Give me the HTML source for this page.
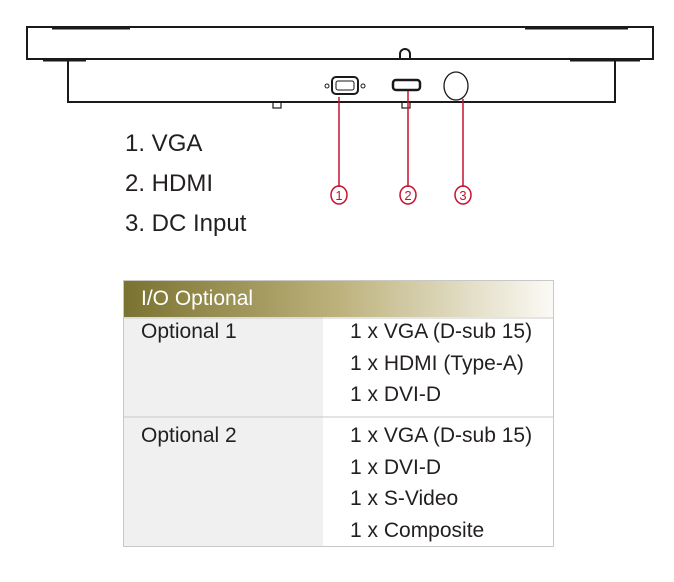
<!DOCTYPE html>
<html><head><style>
body{margin:0;width:674px;height:582px;background:#fff;position:relative;font-family:"Liberation Sans",Arial,sans-serif;overflow:hidden}
.t{position:absolute;color:#231f20;white-space:nowrap}
</style></head><body>
<svg width="674" height="582" style="position:absolute;left:0;top:0">
<g fill="none" stroke="#1a1a1a" stroke-width="2">
<rect x="27" y="27" width="626" height="32"/>
<polyline points="68,59 68,102 615,102 615,59"/>
<path d="M400,59 v-5 a5,5 0 0 1 10,0 v5"/>
<rect x="273" y="102" width="8" height="6" stroke-width="1.2"/>
<rect x="402" y="102" width="8" height="6" stroke-width="1.2"/>
<ellipse cx="456" cy="86" rx="12" ry="14" stroke-width="1.3"/>
<rect x="332" y="77" width="26" height="17" rx="4" stroke-width="2"/>
<rect x="336" y="81" width="18" height="9" rx="2" stroke-width="1"/>
<circle cx="327" cy="86" r="2" stroke-width="1"/>
<circle cx="363" cy="86" r="2" stroke-width="1"/>
<rect x="393" y="80" width="27" height="10" rx="3" stroke-width="2.5"/>
</g>
<g stroke="#1a1a1a" stroke-width="3">
<line x1="52" y1="28" x2="130" y2="28"/><line x1="525" y1="28" x2="628" y2="28"/>
<line x1="43" y1="60" x2="86" y2="60"/><line x1="570" y1="60" x2="640" y2="60"/>
</g>
<g stroke="#c8102e" stroke-width="1.5" fill="none">
<line x1="339" y1="97" x2="339" y2="187"/>
<line x1="408" y1="91" x2="408" y2="187"/>
<line x1="463" y1="99" x2="463" y2="187"/>
<ellipse cx="339" cy="195" rx="8" ry="9"/>
<ellipse cx="408" cy="195" rx="8" ry="9"/>
<ellipse cx="463" cy="195" rx="8" ry="9"/>
</g>
<g fill="#c8102e" font-family="Liberation Sans" font-size="13" text-anchor="middle">
<text x="339" y="200">1</text><text x="408" y="200">2</text><text x="463" y="200">3</text>
</g>
<defs><linearGradient id="g" x1="0" x2="1"><stop offset="0" stop-color="#7a7230"/><stop offset="0.5" stop-color="#bdb27c"/><stop offset="1" stop-color="#fbfaf6"/></linearGradient></defs>
<rect x="123" y="280" width="431" height="37" fill="url(#g)"/>
<rect x="123" y="317" width="200" height="230" fill="#f0f0f0"/>
<rect x="123.5" y="280.5" width="430" height="266" fill="none" stroke="#c8c8c8"/>
<line x1="123" y1="318" x2="554" y2="318" stroke="#c8c8c8"/>
<line x1="123" y1="417" x2="554" y2="417" stroke="#c8c8c8"/>
</svg>
<div class="t" style="left:125px;top:130px;font-size:24px">1. VGA</div>
<div class="t" style="left:125px;top:170px;font-size:24px">2. HDMI</div>
<div class="t" style="left:125px;top:210px;font-size:24px">3. DC Input</div>
<div class="t" style="left:141px;top:287px;font-size:21px;color:#fff">I/O Optional</div>
<div class="t" style="left:141px;top:320px;font-size:21px">Optional 1</div>
<div class="t" style="left:350px;top:316px;font-size:21px;line-height:31.5px">1 x VGA (D-sub 15)<br>1 x HDMI (Type-A)<br>1 x DVI-D</div>
<div class="t" style="left:141px;top:424px;font-size:21px">Optional 2</div>
<div class="t" style="left:350px;top:420px;font-size:21px;line-height:31.5px">1 x VGA (D-sub 15)<br>1 x DVI-D<br>1 x S-Video<br>1 x Composite</div>
</body></html>
